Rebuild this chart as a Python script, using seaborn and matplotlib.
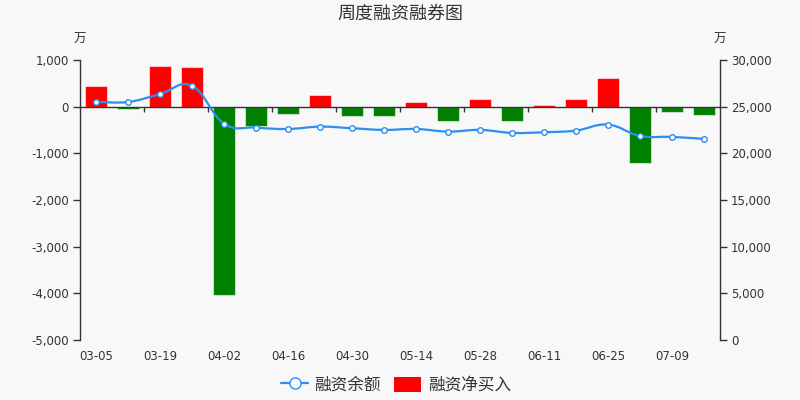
import numpy as np
import pandas as pd
import matplotlib.pyplot as plt
import seaborn as sns
from matplotlib.path import Path
from matplotlib.patches import PathPatch, Patch
from matplotlib.lines import Line2D
from matplotlib.ticker import FuncFormatter, MultipleLocator

# ---------------- data ----------------
dates = ['03-05', '03-12', '03-19', '03-26', '04-02', '04-09', '04-16', '04-23',
         '04-30', '05-07', '05-14', '05-21', '05-28', '06-04', '06-11', '06-18',
         '06-25', '07-02', '07-09', '07-16']
net_buy = [440, -50, 880, 840, -4040, -420, -160, 240, -190, -200,
           110, -300, 170, -310, 45, 165, 620, -1210, -120, -185]      # 万, left axis
balance = [25530, 25500, 26350, 27240, 23180, 22760, 22610, 22860, 22690, 22510,
           22610, 22330, 22510, 22190, 22260, 22440, 23080, 21870, 21760, 21550]  # 万, right axis

bg = '#f8f8f8'
txt = '#333333'
blue = '#2b8ff2'

sns.set_style('white')
plt.rcParams['font.family'] = ['DejaVu Sans', 'Noto Sans CJK SC']
plt.rcParams['axes.unicode_minus'] = False

df = pd.DataFrame({'date': dates, 'net': net_buy,
                   'sign': ['pos' if v >= 0 else 'neg' for v in net_buy]})

fig = plt.figure(figsize=(8, 4), dpi=100, facecolor=bg)
ax = fig.add_axes([0.1, 0.15, 0.8, 0.7])
ax.set_facecolor(bg)

sns.barplot(data=df, x='date', y='net', hue='sign', order=dates,
            palette={'pos': '#ff0000', 'neg': '#008000'}, dodge=False,
            legend=False, width=0.7, saturation=1, ax=ax,
            edgecolor=(1, 1, 1, 0.55), linewidth=0.8)

ax.set_xlim(-0.5, len(dates) - 0.5)
ax.set_ylim(-5000, 1000)
ax.yaxis.set_major_locator(MultipleLocator(1000))
ax.yaxis.set_major_formatter(FuncFormatter(lambda v, p: f'{v:,.0f}'))
ax.set_xticks(range(0, len(dates), 2))
ax.set_xticklabels(dates[::2])
ax.set_xlabel('')
ax.set_ylabel('')
ax.tick_params(axis='x', length=0, pad=7, labelsize=8.5, labelcolor=txt)
ax.tick_params(axis='y', left=True, length=5, width=1, color=txt, pad=3,
               labelsize=8.5, labelcolor=txt)
for s in ['top', 'right', 'bottom']:
    ax.spines[s].set_visible(False)
ax.spines['left'].set_color(txt)
ax.spines['left'].set_linewidth(1)

# category axis sits on zero
ax.axhline(0, color=txt, lw=1, zorder=3)
ax.vlines(np.arange(1.5, len(dates) - 1, 2), -110, 0, color=txt, lw=1, zorder=3)

# ---------------- balance line on right axis ----------------
ax2 = ax.twinx()
ax2.set_ylim(0, 30000)
ax2.yaxis.set_major_locator(MultipleLocator(5000))
ax2.yaxis.set_major_formatter(FuncFormatter(lambda v, p: f'{v:,.0f}'))
ax2.tick_params(axis='y', right=True, length=5, width=1, color=txt, pad=3,
                labelsize=8.5, labelcolor=txt)
for s in ['top', 'left', 'bottom']:
    ax2.spines[s].set_visible(False)
ax2.spines['right'].set_color(txt)
ax2.spines['right'].set_linewidth(1)


def smooth_path(xs, ys, k=0.2):
    pts = np.column_stack([xs, ys]).astype(float)
    n = len(pts)
    verts, codes = [pts[0]], [Path.MOVETO]
    for i in range(n - 1):
        p0, p1 = pts[max(i - 1, 0)], pts[i]
        p2, p3 = pts[i + 1], pts[min(i + 2, n - 1)]
        verts += [p1 + (p2 - p0) * k, p2 - (p3 - p1) * k, p2]
        codes += [Path.CURVE4] * 3
    return Path(verts, codes)


xs = np.arange(len(dates))
ax2.add_patch(PathPatch(smooth_path(xs, balance), facecolor='none',
                        edgecolor=blue, lw=1.6, zorder=4))
sns.scatterplot(x=xs, y=balance, ax=ax2, s=16, color='white',
                edgecolor=blue, linewidth=1, zorder=5)

# ---------------- text ----------------
fig.text(0.5, 1 - 14 / 400, '周度融资融券图', ha='center', va='center',
         fontsize=13, color=txt)
fig.text(0.1, 1 - 39 / 400, '万', ha='center', va='center', fontsize=9, color=txt)
fig.text(0.9, 1 - 39 / 400, '万', ha='center', va='center', fontsize=9, color=txt)

handles = [Line2D([0], [0], color=blue, lw=1.6, marker='o', ms=8,
                  markerfacecolor='white', markeredgecolor=blue),
           Patch(facecolor='#ff0000', edgecolor='none')]
fig.legend(handles, ['融资余额', '融资净买入'], loc='center',
           bbox_to_anchor=(0.495, 1 - 385 / 400), ncol=2, frameon=False,
           fontsize=12, labelcolor=txt, handlelength=1.6, handleheight=1.0,
           columnspacing=0.8, handletextpad=0.4)

fig.savefig('out.png', dpi=100, facecolor=bg)
